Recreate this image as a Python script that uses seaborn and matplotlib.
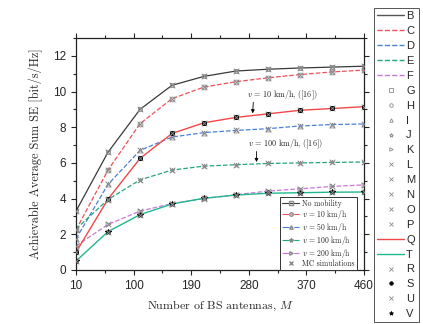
import numpy as np
import pandas as pd
import matplotlib
matplotlib.use("Agg")
import matplotlib.pyplot as plt
import seaborn as sns
from matplotlib.lines import Line2D
from matplotlib.ticker import MultipleLocator, FixedLocator

# Data
M = [10, 60, 110, 160, 210, 260, 310, 360, 410, 460]
no_mob = [3.3, 6.6, 9.0, 10.35, 10.85, 11.15, 11.25, 11.32, 11.37, 11.42]
v10 = [2.25, 5.6, 8.2, 9.6, 10.25, 10.55, 10.77, 10.95, 11.1, 11.2]
v50 = [1.75, 4.8, 6.7, 7.45, 7.7, 7.82, 7.92, 8.07, 8.15, 8.18]
v100 = [2.3, 3.95, 5.05, 5.6, 5.82, 5.9, 5.97, 6.0, 6.03, 6.05]
v200 = [1.35, 2.55, 3.3, 3.72, 4.0, 4.22, 4.42, 4.55, 4.68, 4.77]
v10_ref = [1.0, 3.97, 6.25, 7.65, 8.25, 8.55, 8.75, 8.95, 9.05, 9.15]
v100_ref = [0.5, 2.15, 3.1, 3.7, 4.02, 4.2, 4.3, 4.33, 4.36, 4.37]

sns.set_style("ticks")
plt.rcParams['font.family'] = ['Liberation Sans', 'DejaVu Sans']
plt.rcParams['mathtext.fontset'] = 'cm'

c_black = '#3a3a3a'
c_red = '#f05058'
c_blue = '#4a80d8'
c_green = '#22a878'
c_violet = '#c878d8'
c_red2 = '#f04848'
c_green2 = '#20b88e'
c_grey = '#8a8a8a'
serif = 'cmr10'

fig = plt.figure(figsize=(4.23, 3.24), dpi=100)
ax = fig.add_axes([0.1797, 0.1667, 0.6808, 0.716])

curves = [
    (no_mob, c_black, '-', 's'),
    (v10, c_red, '--', 'o'),
    (v50, c_blue, '--', '^'),
    (v100, c_green, '--', '*'),
    (v200, c_violet, '--', '>'),
]
for vals, col, ls, mk in curves:
    sns.lineplot(x=M, y=vals, ax=ax, color=col, linestyle=ls, linewidth=0.9,
                 marker=mk, markersize=3.5, markerfacecolor='none',
                 markeredgecolor=c_grey, markeredgewidth=0.6)

sns.lineplot(x=M, y=v10_ref, ax=ax, color=c_red2, linewidth=1.0,
             marker='s', markersize=3.5, markerfacecolor='black',
             markeredgecolor='black')
sns.lineplot(x=M, y=v100_ref, ax=ax, color=c_green2, linewidth=1.0,
             marker='*', markersize=4, markerfacecolor='black',
             markeredgecolor='black')

# Monte Carlo crosses
for vals in [no_mob, v10, v50, v100, v200, v10_ref, v100_ref]:
    sns.scatterplot(x=M, y=vals, ax=ax, marker='x', color=c_grey, s=16,
                    linewidth=0.7, zorder=4)

ax.set_xlim(10, 460)
ax.set_ylim(0, 13)
ax.xaxis.set_major_locator(FixedLocator([10, 100, 190, 280, 370, 460]))
ax.xaxis.set_minor_locator(FixedLocator([55, 145, 235, 325, 415]))
ax.yaxis.set_major_locator(MultipleLocator(2))
ax.yaxis.set_minor_locator(MultipleLocator(1))
ax.tick_params(which='both', top=True, right=True, labelsize=8.5, width=0.8)
ax.tick_params(which='major', length=3.5)
ax.tick_params(which='minor', length=2)
for s in ax.spines.values():
    s.set_linewidth(0.9)
    s.set_color('#222222')

ax.set_xlabel('Number of BS antennas, $M$', fontsize=8.6, family=serif, labelpad=5)
ax.set_ylabel('Achievable Average Sum SE [bit/s/Hz]', fontsize=8.8, family=serif, labelpad=7)

# Annotations
ax.text(277, 9.42, '$v$ = 10 km/h, ([16])', fontsize=5.8, family=serif,
        ha='left', va='bottom')
ax.annotate('', xy=(286, 8.78), xytext=(287, 9.4),
            arrowprops=dict(arrowstyle='-|>', color='black', lw=0.6,
                            mutation_scale=5, shrinkA=0, shrinkB=0))
ax.text(278, 6.68, '$v$ = 100 km/h, ([16])', fontsize=5.8, family=serif,
        ha='left', va='bottom')
ax.annotate('', xy=(292, 6.05), xytext=(292, 6.64),
            arrowprops=dict(arrowstyle='-|>', color='black', lw=0.6,
                            mutation_scale=5, shrinkA=0, shrinkB=0))

# Inner legend
inner = [
    (Line2D([], [], color=c_black, ls='-', lw=0.8, marker='s', ms=2.5,
            mfc='none', mec=c_grey), 'No mobility'),
    (Line2D([], [], color=c_red, ls='-.', lw=0.8, marker='o', ms=2.5,
            mfc='none', mec=c_grey), '$v$ = 10 km/h'),
    (Line2D([], [], color=c_blue, ls='-.', lw=0.8, marker='^', ms=2.5,
            mfc='none', mec=c_grey), '$v$ = 50 km/h'),
    (Line2D([], [], color=c_green, ls='-.', lw=0.8, marker='*', ms=3,
            mfc='none', mec=c_grey), '$v$ = 100 km/h'),
    (Line2D([], [], color=c_violet, ls='-.', lw=0.8, marker='>', ms=2.5,
            mfc='none', mec=c_grey), '$v$ = 200 km/h'),
    (Line2D([], [], color='none', marker='x', ms=3, mec=c_grey), 'MC simulations'),
]
leg_in = ax.legend([h for h, _ in inner], [t for _, t in inner],
                   loc='lower right', bbox_to_anchor=(0.975, 0.0),
                   prop={'family': serif, 'size': 5.5}, frameon=True,
                   fancybox=False, edgecolor='#333333', framealpha=1,
                   handlelength=2.3, handletextpad=0.4, labelspacing=0.0,
                   borderpad=0.25, borderaxespad=0.0)
leg_in.get_frame().set_linewidth(0.7)

# Outer auto-legend
def mk(m, c=c_grey, fill='none', ms=3):
    return Line2D([], [], color='none', marker=m, ms=ms, mfc=fill, mec=c, mew=0.6)

def ln(c, ls):
    return Line2D([], [], color=c, ls=ls, lw=1.0)

outer = [
    (ln('#555555', '-'), 'B'), (ln(c_red, '--'), 'C'), (ln(c_blue, '--'), 'D'),
    (ln(c_green, '--'), 'E'), (ln(c_violet, '--'), 'F'),
    (mk('s', ms=2.5), 'G'), (mk('o', ms=2.5), 'H'), (mk('^', ms=2.5), 'I'),
    (mk('*', ms=3), 'J'), (mk('>', ms=2.5), 'K'),
    (mk('x'), 'L'), (mk('x'), 'M'), (mk('x'), 'N'), (mk('x'), 'O'), (mk('x'), 'P'),
    (ln(c_red2, '-'), 'Q'), (ln(c_green2, '-'), 'T'),
    (mk('x'), 'R'), (mk('o', 'black', 'black', 2.5), 'S'),
    (mk('x'), 'U'), (mk('*', 'black', 'black', 3), 'V'),
]
leg_out = fig.legend([h for h, _ in outer], [t for _, t in outer],
                     loc='upper left', bbox_to_anchor=(374 / 423, 1 - 8 / 324),
                     prop={'family': 'Liberation Sans', 'size': 8},
                     frameon=True, fancybox=False, edgecolor='#555555',
                     framealpha=1, handlelength=2.4, handletextpad=0.2,
                     labelspacing=0.44, borderpad=0.3, borderaxespad=0.0)
leg_out.get_frame().set_linewidth(0.7)

fig.savefig('out.png', dpi=100)
